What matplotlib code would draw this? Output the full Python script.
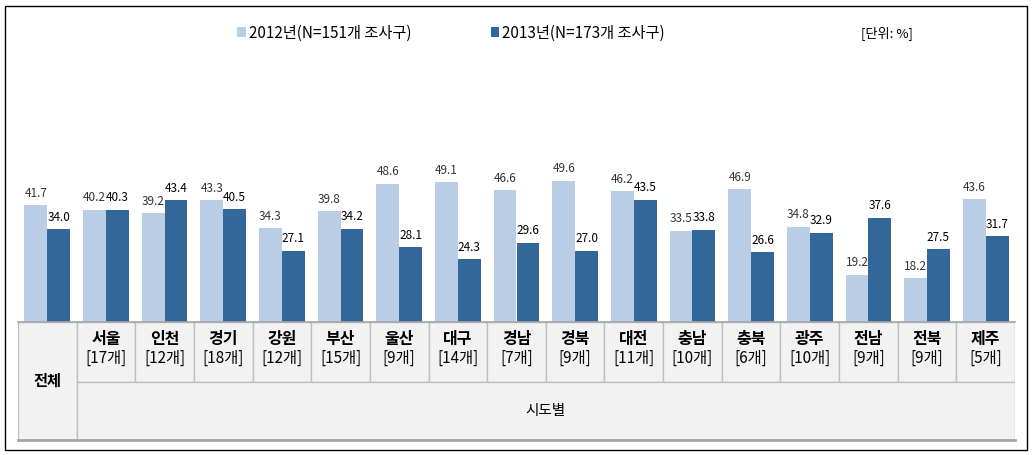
import matplotlib.pyplot as plt
import matplotlib.patches as patches
import numpy as np

plt.rcParams['font.family'] = ['Noto Sans CJK KR', 'DejaVu Sans']

regions = ["서울", "인천", "경기", "강원", "부산", "울산", "대구", "경남",
           "경북", "대전", "충남", "충북", "광주", "전남", "전북", "제주"]
counts = ["[17개]", "[12개]", "[18개]", "[12개]", "[15개]", "[9개]", "[14개]", "[7개]",
          "[9개]", "[11개]", "[10개]", "[6개]", "[10개]", "[9개]", "[9개]", "[5개]"]
values_2012 = [41.7, 40.2, 39.2, 43.3, 34.3, 39.8, 48.6, 49.1, 46.6,
               49.6, 46.2, 33.5, 46.9, 34.8, 19.2, 18.2, 43.6]
values_2013 = [34.0, 40.3, 43.4, 40.5, 27.1, 34.2, 28.1, 24.3, 29.6,
               27.0, 43.5, 33.8, 26.6, 32.9, 37.6, 27.5, 31.7]
label_2012 = "2012년(N=151개 조사구)"
label_2013 = "2013년(N=173개 조사구)"

W, H = 1035, 455
fig = plt.figure(figsize=(W / 100, H / 100), dpi=100)

def px_axes(x0, y0, x1, y1):
    # pixel box (top-left origin) -> figure axes
    return fig.add_axes([x0 / W, 1 - y1 / H, (x1 - x0) / W, (y1 - y0) / H])

# 막대 그래프
ax = px_axes(18, 25, 1015, 322)
n = len(values_2012)
x = np.arange(n)
bw = 0.39
bars1 = ax.bar(x - bw / 2, values_2012, width=bw, color="#B9CDE5", label=label_2012)
bars2 = ax.bar(x + bw / 2, values_2013, width=bw, color="#336699", label=label_2013)
ax.set_xlim(-0.5, n - 0.5)
ax.set_ylim(4, 100)
ax.axis("off")
ax.bar_label(bars1, labels=[f"{v:.1f}" for v in values_2012], padding=4,
             fontsize=8.5, color="#333333")
ax.bar_label(bars2, labels=[f"{v:.1f}" for v in values_2013], padding=4,
             fontsize=8.5, color="black")

fig.legend(handles=[bars1, bars2], loc="center", ncol=2, frameon=False,
           bbox_to_anchor=(451 / W, 1 - 33 / H), fontsize=11,
           handlelength=0.55, handleheight=0.55, handletextpad=0.2,
           columnspacing=5.2)
fig.text(887 / W, 1 - 33 / H, "[단위: %]", ha="center", va="center", fontsize=9.5)

# 표
tab = px_axes(18, 322, 1015, 440)
tab.set_xlim(-0.5, n - 0.5)
tab.set_ylim(0, 1)
tab.axis("off")
edge = "#BFBFBF"
fill = "#F2F2F2"
split = 1 - 60 / 118
tab.add_patch(patches.Rectangle((-0.5, 0), n, 1, facecolor=fill, edgecolor=edge, lw=1))
tab.add_patch(patches.Rectangle((-0.5, 0), 1, 1, facecolor=fill, edgecolor=edge, lw=1))
for i in range(1, n):
    tab.add_patch(patches.Rectangle((i - 0.5, split), 1, 1 - split,
                                    facecolor=fill, edgecolor=edge, lw=1))
tab.add_patch(patches.Rectangle((0.5, 0), n - 1, split, facecolor=fill, edgecolor=edge, lw=1))
tab.plot([-0.5, n - 0.5], [0, 0], color="#A6A6A6", lw=2, clip_on=False)
tab.plot([-0.5, n - 0.5], [1, 1], color="#A6A6A6", lw=1.2, clip_on=False)

tab.text(0, 0.5, "전체", ha="center", va="center", fontsize=11, fontweight="bold")
for i, (r, c) in enumerate(zip(regions, counts), start=1):
    tab.text(i, 1 - 17 / 118, r, ha="center", va="center", fontsize=11.5, fontweight="bold")
    tab.text(i, 1 - 36 / 118, c, ha="center", va="center", fontsize=11)
tab.text(n / 2, split / 2, "시도별", ha="center", va="center", fontsize=10.5)

# 바깥 테두리
fig.add_artist(patches.Rectangle((5 / W, 1 - 450 / H), 1022 / W, 444 / H,
                                 transform=fig.transFigure, fill=False,
                                 edgecolor="black", lw=1))

fig.savefig("out.png", dpi=100)
